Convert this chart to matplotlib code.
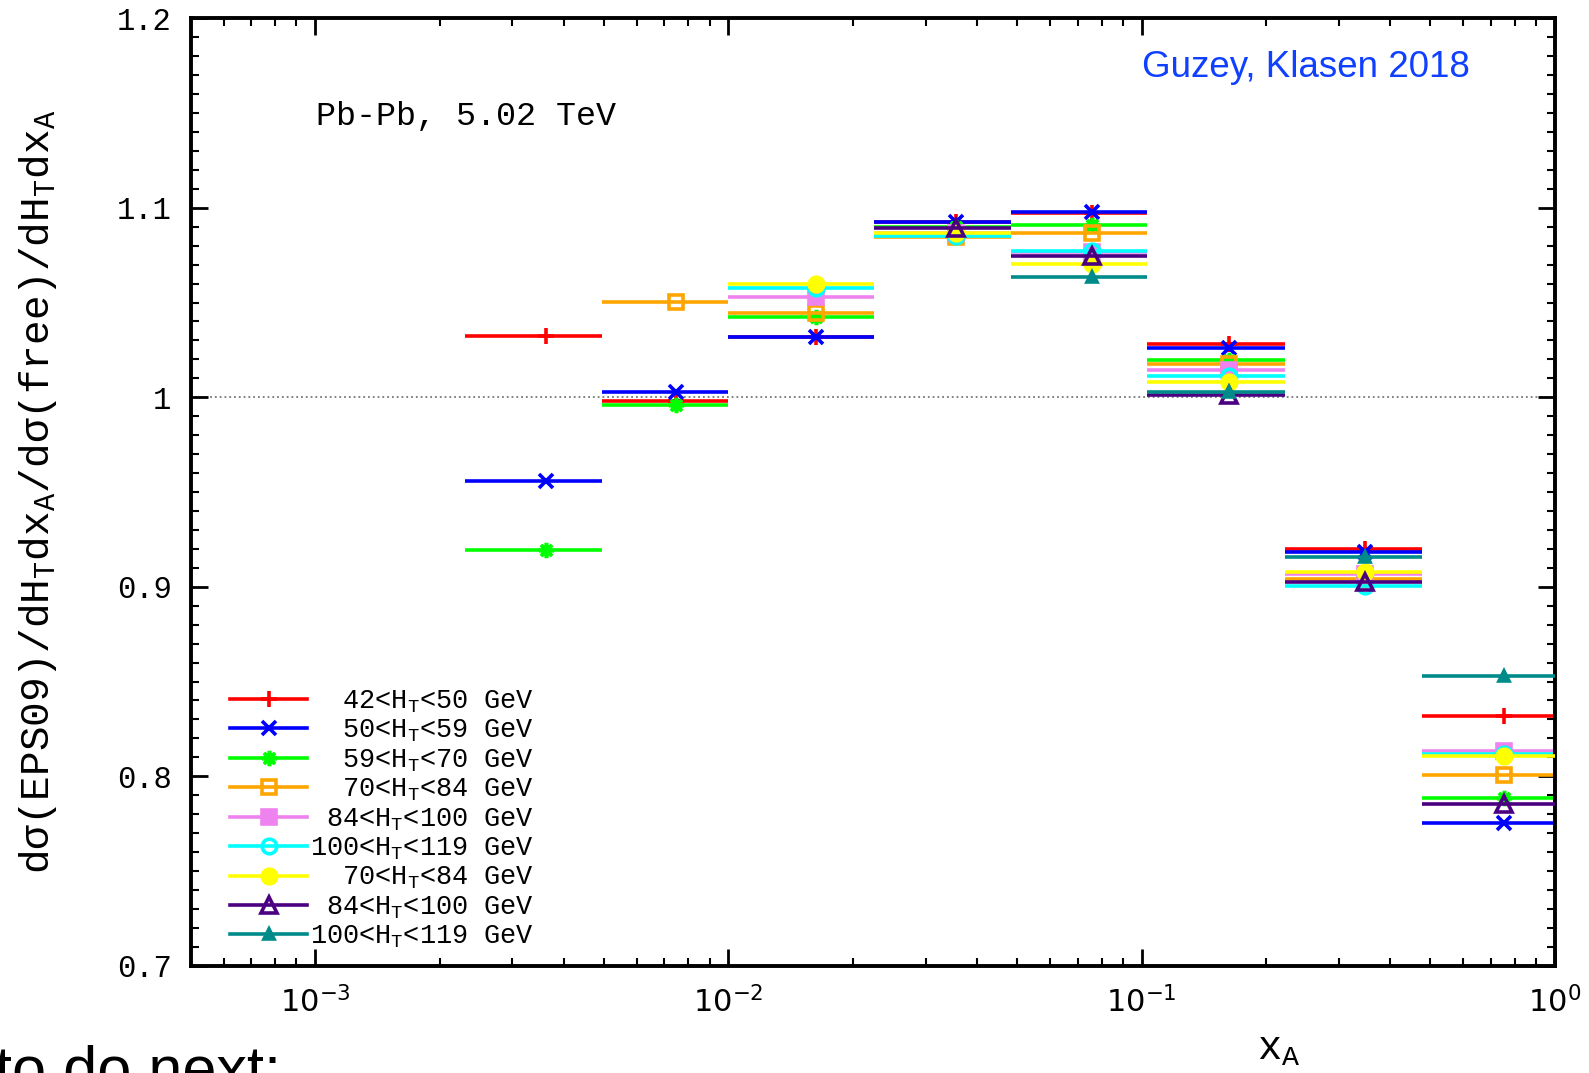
import numpy as np
import matplotlib
matplotlib.use("Agg")
import matplotlib.pyplot as plt
from matplotlib.ticker import MultipleLocator, FuncFormatter, NullFormatter, LogLocator

plt.rcParams["font.family"] = ["Liberation Mono", "DejaVu Sans"]
plt.rcParams["mathtext.fontset"] = "custom"
plt.rcParams["mathtext.rm"] = "Liberation Mono"
plt.rcParams["mathtext.it"] = "Liberation Mono:italic"
plt.rcParams["mathtext.bf"] = "Liberation Mono:bold"
plt.rcParams["mathtext.sf"] = "DejaVu Sans"

# x_A bins (edges) and the point where the marker sits
edges = np.array([2.31e-3, 4.93e-3, 1.0e-2, 2.25e-2, 4.83e-2, 0.103, 0.222, 0.476, 1.0])
centers = np.array([3.61e-3, 7.47e-3, 1.63e-2, 3.55e-2, 7.57e-2, 0.1627, 0.348, 0.752])

nan = np.nan
r_42_50 = [1.0323, 0.9982, 1.0318, 1.0925, 1.0971, 1.0281, 0.9198, 0.8318]
r_50_59 = [0.9558, 1.0029, 1.0318, 1.0927, 1.0979, 1.0258, 0.9185, 0.7752]
r_59_70 = [0.9194, 0.9957, 1.0425, 1.0900, 1.0907, 1.0195, 0.9075, 0.7884]
r_70_84 = [nan, 1.0504, 1.0443, 1.0845, 1.0865, 1.0174, 0.9039, 0.8005]
r_84_100 = [nan, nan, 1.0531, 1.0866, 1.0768, 1.0144, 0.9065, 0.8134]
r_100_119 = [nan, nan, 1.0576, 1.0849, 1.0770, 1.0114, 0.9006, 0.8120]
r_70_84b = [nan, nan, 1.0598, 1.0866, 1.0702, 1.0082, 0.9080, 0.8107]
r_84_100b = [nan, nan, nan, 1.0891, 1.0745, 1.0012, 0.9025, 0.7852]
r_100_119b = [nan, nan, nan, nan, 1.0635, 1.0028, 0.9159, 0.8529]

labels = ["  42<H$_\\mathrm{T}$<50 GeV", "  50<H$_\\mathrm{T}$<59 GeV", "  59<H$_\\mathrm{T}$<70 GeV",
          "  70<H$_\\mathrm{T}$<84 GeV", " 84<H$_\\mathrm{T}$<100 GeV", "100<H$_\\mathrm{T}$<119 GeV",
          "  70<H$_\\mathrm{T}$<84 GeV", " 84<H$_\\mathrm{T}$<100 GeV", "100<H$_\\mathrm{T}$<119 GeV"]
series = [r_42_50, r_50_59, r_59_70, r_70_84, r_84_100, r_100_119, r_70_84b, r_84_100b, r_100_119b]

colors = ["#ff0000", "#0000ff", "#00ff00", "#ffa500", "#ee82ee", "#00ffff", "#ffff00", "#4b0082", "#008b8b"]
markers = ["+", "x", (8, 2, 0), "s", "s", "o", "o", "^", "^"]
msizes = [11, 10, 11, 10.5, 10.5, 10.5, 10.5, 12, 7.5]
filled = [True, True, True, False, True, False, True, False, True]

fig = plt.figure(figsize=(15.89, 10.73), dpi=100)
ax = fig.add_axes([0.1201, 0.0999, 0.8584, 0.8831])

ax.axhline(1.0, color="#777777", ls=":", lw=1.3, zorder=1)

lo = centers - edges[:-1]
hi = edges[1:] - centers
handles = []
for i, (vals, lab, c, m, ms, f) in enumerate(zip(series, labels, colors, markers, msizes, filled)):
    z = 2 + 0.1 * i
    ax.errorbar(centers, vals, xerr=[lo, hi], fmt="none", ecolor=c, elinewidth=2.6, capsize=0, zorder=z)
    ax.plot(centers, vals, ls="none", marker=m, ms=ms, color=c, mec=c,
            mfc=c if f else "none", mew=2.6, zorder=z + 0.05)
    h, = ax.plot([], [], color=c, lw=2.6, marker=m, ms=ms, mec=c, mfc=c if f else "none", mew=2.6)
    handles.append(h)

leg = ax.legend(handles, labels, loc="upper left", bbox_to_anchor=(0.029, 0.293), frameon=False,
                fontsize=19.4, handlelength=2.86, handletextpad=0.1, labelspacing=0.11,
                borderpad=0, borderaxespad=0)

ax.set_xscale("log")
ax.set_xlim(5e-4, 1.0)
ax.set_ylim(0.7, 1.2)

ax.yaxis.set_major_locator(MultipleLocator(0.1))
ax.yaxis.set_minor_locator(MultipleLocator(0.01))
ax.yaxis.set_major_formatter(FuncFormatter(lambda v, p: "%g" % round(v, 2)))
ax.xaxis.set_major_locator(LogLocator(base=10))
ax.xaxis.set_minor_locator(LogLocator(base=10, subs=np.arange(2, 10)))
ax.xaxis.set_minor_formatter(NullFormatter())
ax.xaxis.set_major_formatter(FuncFormatter(lambda v, p: r"$\mathsf{10^{%d}}$" % round(np.log10(v))))

ax.tick_params(which="both", direction="in", top=True, right=True)
ax.tick_params(which="major", length=12, width=2)
ax.tick_params(which="minor", length=6, width=1.5)
ax.tick_params(axis="y", labelsize=22, pad=14)
ax.tick_params(axis="x", labelsize=22, pad=15)
for s in ax.spines.values():
    s.set_linewidth(2.8)

fig.text(0.024, 0.542, "dσ(EPS09)/dH$_\\mathrm{T}$dx$_\\mathrm{A}$/dσ(free)/dH$_\\mathrm{T}$dx$_\\mathrm{A}$",
         rotation=90, ha="center", va="center", fontsize=29.5)
fig.text(0.805, 0.013, "x$_\\mathrm{A}$", ha="center", va="baseline", fontsize=29)

ax.text(0.092, 0.896, "Pb-Pb, 5.02 TeV", transform=ax.transAxes, fontsize=24, va="center", ha="left")
ax.text(0.938, 0.948, "Guzey, Klasen 2018", transform=ax.transAxes, fontsize=26.5,
        color="#1040ff", family="Liberation Sans", va="center", ha="right")

fig.text(-0.003, -0.014, "to do next:", fontsize=44, family="Liberation Sans", va="baseline", ha="left")

fig.savefig("out.png", dpi=100)
